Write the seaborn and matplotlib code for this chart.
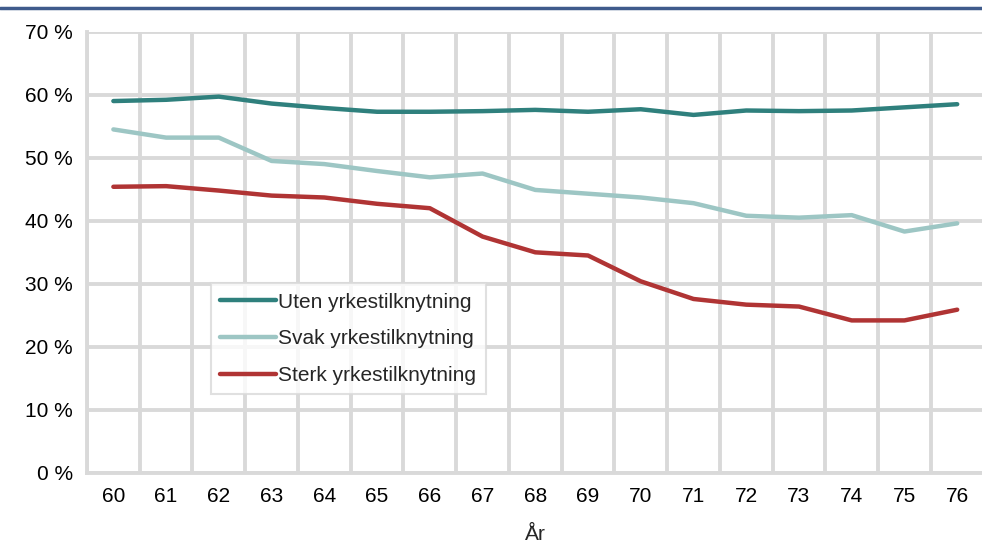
import pandas as pd
import numpy as np
import matplotlib.pyplot as plt
import seaborn as sns
from matplotlib.lines import Line2D

years = [str(a) for a in range(60, 77)]
uten = [59.0, 59.2, 59.7, 58.6, 57.9, 57.3, 57.3, 57.4, 57.6, 57.3, 57.7, 56.8, 57.5, 57.4, 57.5, 58.0, 58.5]
svak = [54.5, 53.2, 53.2, 49.5, 49.0, 47.9, 46.9, 47.5, 44.9, 44.3, 43.7, 42.8, 40.8, 40.5, 40.9, 38.3, 39.6]
sterk = [45.4, 45.5, 44.8, 44.0, 43.7, 42.7, 42.0, 37.5, 35.0, 34.5, 30.4, 27.6, 26.7, 26.4, 24.2, 24.2, 25.9]
series = ["Uten yrkestilknytning", "Svak yrkestilknytning", "Sterk yrkestilknytning"]
colors = ["#2f807d", "#9dc6c4", "#b03434"]

df = pd.DataFrame({"År": years * 3,
                   "andel": uten + svak + sterk,
                   "gruppe": np.repeat(series, len(years))})

sns.set_style("white")
plt.rcParams["font.family"] = ["Liberation Sans", "DejaVu Sans"]

fig = plt.figure(figsize=(9.82, 5.43), dpi=100)
ax = fig.add_axes([0.0886, 0.129, 0.913, 0.8126])

sns.lineplot(data=df, x="År", y="andel", hue="gruppe", palette=colors,
             linewidth=3.2, sort=False, ax=ax, legend=False)

ax.set_ylim(0, 70)
ax.set_xlim(-0.5, len(years) - 0.5)
ax.set_yticks(range(0, 71, 10))
ax.set_yticklabels([f"{v} %" for v in range(0, 71, 10)])
ax.set_xticks(range(len(years)))
ax.set_xticklabels(years)
ax.set_xticks(np.arange(-0.5, len(years), 1), minor=True)

grid_c = "#d9d9d9"
ax.grid(False)
ax.grid(True, which="major", axis="y", color=grid_c, linewidth=2.8)
ax.grid(True, which="minor", axis="x", color=grid_c, linewidth=2.8)
ax.set_axisbelow(True)
for side in ["top", "right"]:
    ax.spines[side].set_visible(False)
for side in ["left", "bottom"]:
    ax.spines[side].set_color(grid_c)
    ax.spines[side].set_linewidth(2.8)

ax.tick_params(axis="both", which="both", length=0, labelsize=15, colors="black")
ax.tick_params(axis="x", pad=10)
ax.tick_params(axis="y", pad=10)
ax.set_xlabel("År", fontsize=15, labelpad=14)
ax.set_ylabel("")

handles = [Line2D([0], [0], color=c, lw=3.2, solid_capstyle="round") for c in colors]
leg = ax.legend(handles, series, loc="upper left", bbox_to_anchor=(0.138, 0.43),
                fontsize=15, frameon=True, fancybox=False, handlelength=2.7,
                handletextpad=0.1, borderpad=0.45, labelspacing=0.85,
                borderaxespad=0)
leg.get_frame().set_edgecolor(grid_c)
leg.get_frame().set_linewidth(1.5)

fig.add_artist(Line2D([0, 1], [0.985, 0.985], color="#3f5b8c", lw=2.5,
                      transform=fig.transFigure))

fig.savefig("out.png", dpi=100)
